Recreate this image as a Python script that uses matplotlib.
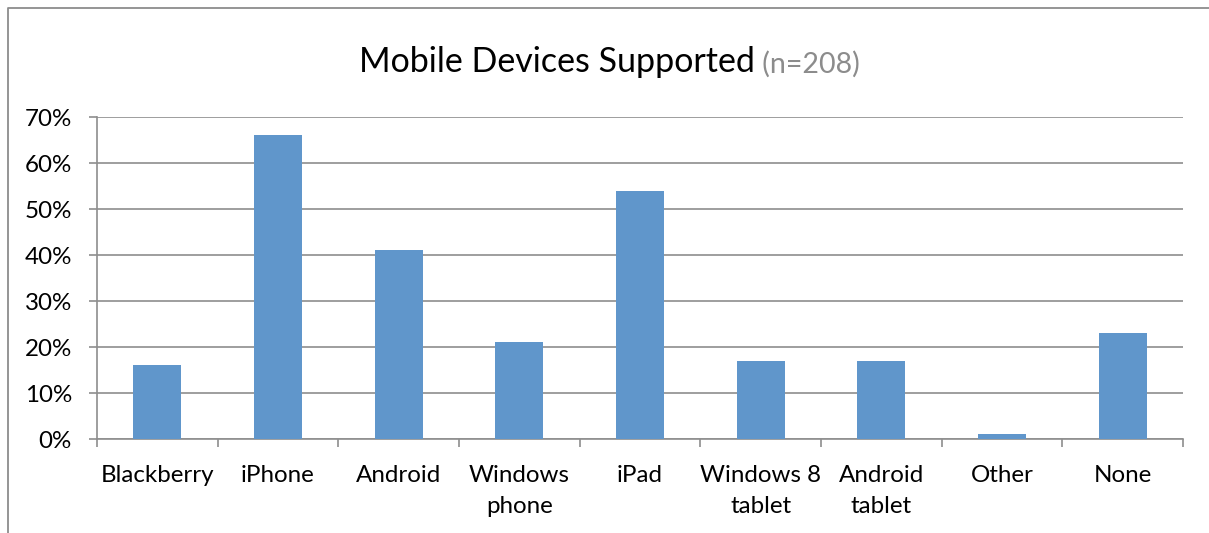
import matplotlib
matplotlib.use("Agg")
import matplotlib.pyplot as plt
from matplotlib.lines import Line2D
from matplotlib.ticker import FuncFormatter, FixedLocator

plt.rcParams['font.family'] = ['Lato', 'DejaVu Sans']

categories = ["Blackberry", "iPhone", "Android", "Windows\nphone", "iPad",
              "Windows 8\ntablet", "Android\ntablet", "Other", "None"]
values = [16, 66, 41, 21, 54, 17, 17, 1, 23]
yticks = [0, 10, 20, 30, 40, 50, 60, 70]

W, H = 1209, 533
fig = plt.figure(figsize=(W / 100, H / 100), dpi=100)
ax = fig.add_axes([97 / W, 1 - 439 / H, (1183 - 97) / W, (439 - 117) / H])

bar_color = '#6096CB'
grid_color = '#8E8E8E'

x = list(range(len(categories)))
ax.bar(x, values, width=0.4, color=bar_color, zorder=3)

ax.set_xlim(-0.5, len(categories) - 0.5)
ax.set_ylim(0, 70)
ax.set_yticks(yticks)
ax.yaxis.set_major_formatter(FuncFormatter(lambda v, p: f"{int(v)}%"))
ax.grid(axis='y', color=grid_color, linewidth=1.2, zorder=0)

ax.set_xticks(x)
ax.set_xticklabels(categories, fontsize=17.4, linespacing=1.55)
ax.xaxis.set_minor_locator(FixedLocator([i - 0.5 for i in range(len(categories) + 1)]))
ax.tick_params(axis='x', which='major', length=0, pad=19)
ax.tick_params(axis='x', which='minor', length=6, width=1.2, color=grid_color)
ax.tick_params(axis='y', which='major', length=6, width=1.2, color=grid_color,
               labelsize=17.4, pad=12)

for s in ['top', 'right']:
    ax.spines[s].set_visible(False)
for s in ['left', 'bottom']:
    ax.spines[s].set_color(grid_color)
    ax.spines[s].set_linewidth(1.2)

# Title
t1 = fig.text(359 / W, 1 - 72 / H, "Mobile Devices Supported", fontsize=24.5,
              color='black', ha='left', va='baseline')
fig.canvas.draw()
ax.annotate(" (n=208)", xy=(1, 0), xycoords=t1, fontsize=20.5, color='#8C8C8C',
            ha='left', va='bottom', annotation_clip=False)

# Outer chart border (left and top edges)
bx, by = 7.5 / W, 1 - 7.5 / H
fig.add_artist(Line2D([bx, bx, 1.0], [0.0, by, by], transform=fig.transFigure,
                      color='#8C8C8C', linewidth=1.3))

fig.savefig("out.png", dpi=100)
